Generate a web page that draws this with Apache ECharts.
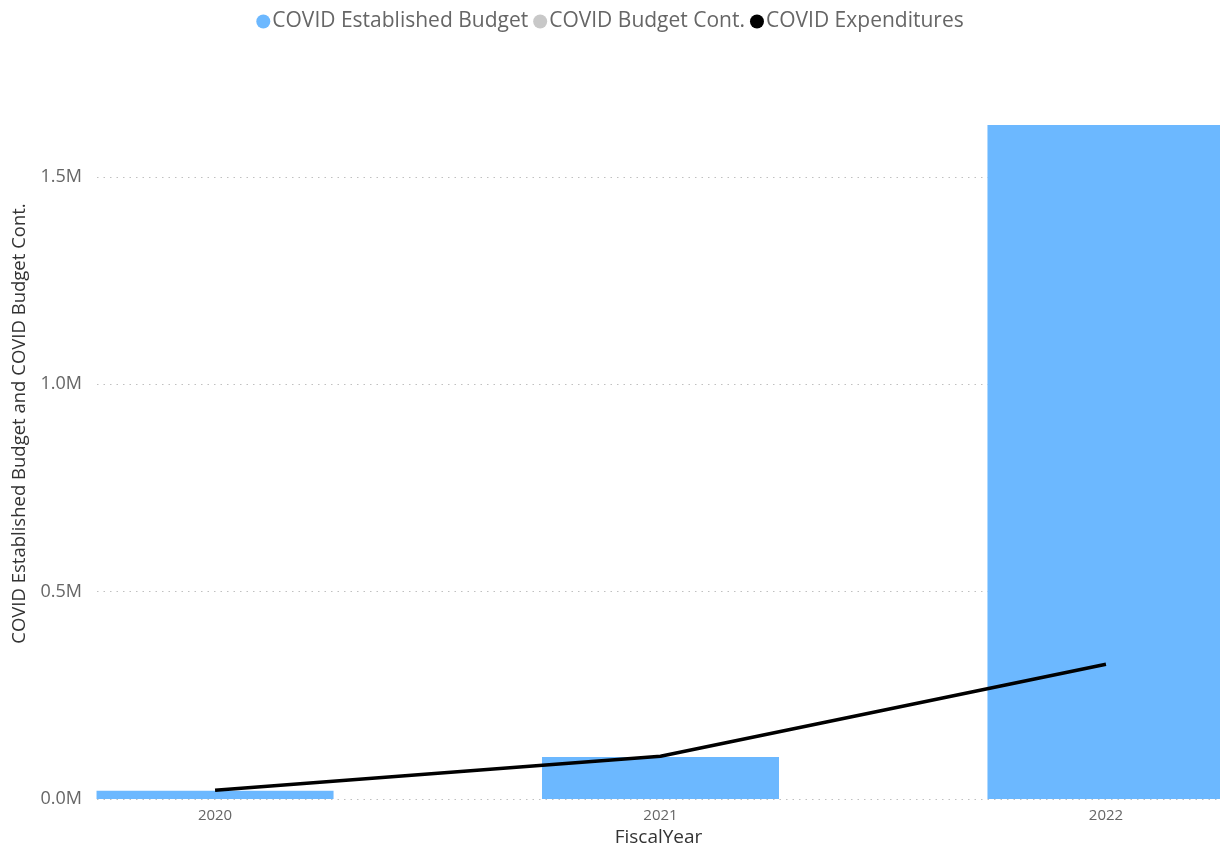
<!DOCTYPE html>
<html><head><meta charset="utf-8">
<script src="https://cdn.jsdelivr.net/npm/echarts@6/dist/echarts.min.js"></script>
<style>html,body{margin:0;padding:0;background:#fff}#c{width:1220px;height:852px}</style>
</head><body><div id="c"></div>
<script>
const categories = ['2020', '2021', '2022'];
const establishedBudget = [20000, 101000, 1625000];
const budgetCont = [0, 0, 0];
const expenditures = [21000, 103000, 325000];

const years = categories.map(c => parseInt(c, 10));
const pair = arr => arr.map((v, i) => [years[i], v]);
const font = '"Open Sans", "Noto Sans", sans-serif';

const chart = echarts.init(document.getElementById('c'));
chart.setOption({
  animation: false,
  legend: {
    top: 6, left: 'center',
    icon: 'circle', itemWidth: 14, itemHeight: 14, itemGap: 5,
    textStyle: { color: '#666', fontSize: 21, fontFamily: font, padding: [0,0,0,-3] },
    data: ['COVID Established Budget', 'COVID Budget Cont.', 'COVID Expenditures']
  },
  grid: { left: 97, right: 0, top: 94, bottom: 53, containLabel: false, outerBoundsMode: 'none' },
  xAxis: {
    type: 'value', min: 2019.735, max: 2022.256,
    name: 'FiscalYear', nameLocation: 'middle', nameGap: 29,
    nameTextStyle: { color: '#333', fontSize: 19, fontFamily: font },
    axisLine: { show: false }, axisTick: { show: false }, splitLine: { show: false },
    axisLabel: { customValues: years, formatter: v => String(v), color: '#666', fontSize: 15, fontFamily: font, margin: 9 }
  },
  yAxis: {
    type: 'value', min: 0, max: 1700000, interval: 500000,
    name: 'COVID Established Budget and COVID Budget Cont.', nameLocation: 'middle', nameGap: 67,
    nameTextStyle: { color: '#333', fontSize: 18.5, fontFamily: font, padding: [0, 0, 0, 46] },
    axisLine: { show: false }, axisTick: { show: false },
    axisLabel: { showMaxLabel: false, color: '#666', fontSize: 18, fontFamily: font, margin: 15,
      formatter: v => (v / 1e6).toFixed(1) + 'M' },
    splitLine: { showMaxLine: false, lineStyle: { color: '#c0c0c0', type: [1.5, 5], width: 1 } }
  },
  series: [
    { name: 'COVID Established Budget', type: 'bar', stack: 'b', barWidth: 237,
      itemStyle: { color: '#6CB8FF' }, data: pair(establishedBudget) },
    { name: 'COVID Budget Cont.', type: 'bar', stack: 'b', barWidth: 237,
      itemStyle: { color: '#C8C8C8' }, data: pair(budgetCont) },
    { name: 'COVID Expenditures', type: 'line', showSymbol: false, symbol: 'circle',
      itemStyle: { color: '#000' }, lineStyle: { color: '#000', width: 3.5 }, data: pair(expenditures) }
  ]
});
</script></body></html>
